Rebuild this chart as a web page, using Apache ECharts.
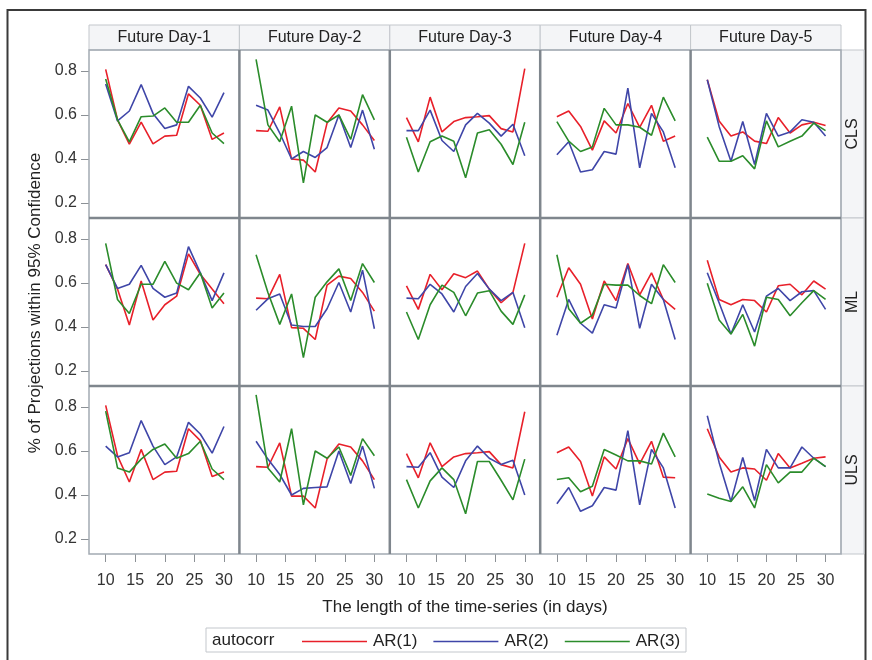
<!DOCTYPE html>
<html>
<head>
<meta charset="utf-8">
<script src="https://cdn.jsdelivr.net/npm/echarts@6/dist/echarts.min.js"></script>
<style>html,body{margin:0;padding:0;background:#fff;}#c{width:872px;height:660px;}</style>
</head>
<body>
<div id="c"></div>
<script>
const xDays = [10, 12, 14, 16, 18, 20, 22, 24, 26, 28, 30];
const xTicks = [10, 15, 20, 25, 30];
const yTicks = [0.2, 0.4, 0.6, 0.8];
const dayLabels = ['Future Day-1', 'Future Day-2', 'Future Day-3', 'Future Day-4', 'Future Day-5'];
const methods = ['CLS', 'ML', 'ULS'];
const seriesNames = ['AR(1)', 'AR(2)', 'AR(3)'];

// values: one inner array per future day (1..5), points at xDays
const CLS_AR1 = [
  [0.807, 0.578, 0.467, 0.567, 0.469, 0.504, 0.508, 0.696, 0.644, 0.489, 0.518],
  [0.529, 0.526, 0.637, 0.400, 0.395, 0.341, 0.563, 0.632, 0.618, 0.555, 0.484],
  [0.588, 0.478, 0.681, 0.523, 0.570, 0.588, 0.592, 0.597, 0.538, 0.523, 0.810],
  [0.592, 0.618, 0.548, 0.440, 0.573, 0.518, 0.652, 0.544, 0.644, 0.481, 0.504],
  [0.760, 0.573, 0.504, 0.523, 0.481, 0.470, 0.588, 0.518, 0.555, 0.567, 0.552]
];
const CLS_AR2 = [
  [0.741, 0.573, 0.618, 0.738, 0.607, 0.538, 0.555, 0.730, 0.677, 0.590, 0.701],
  [0.644, 0.622, 0.518, 0.400, 0.434, 0.407, 0.452, 0.600, 0.452, 0.622, 0.444],
  [0.529, 0.529, 0.622, 0.484, 0.434, 0.555, 0.607, 0.563, 0.504, 0.558, 0.415],
  [0.419, 0.478, 0.341, 0.351, 0.434, 0.422, 0.722, 0.360, 0.607, 0.523, 0.360],
  [0.760, 0.548, 0.390, 0.570, 0.375, 0.607, 0.504, 0.523, 0.578, 0.567, 0.504]
];
const CLS_AR3 = [
  [0.763, 0.578, 0.478, 0.592, 0.595, 0.632, 0.567, 0.567, 0.644, 0.518, 0.470],
  [0.852, 0.555, 0.478, 0.640, 0.292, 0.600, 0.567, 0.600, 0.489, 0.692, 0.578],
  [0.499, 0.341, 0.478, 0.504, 0.481, 0.315, 0.518, 0.533, 0.467, 0.375, 0.567],
  [0.570, 0.481, 0.434, 0.455, 0.630, 0.555, 0.555, 0.544, 0.508, 0.681, 0.573],
  [0.499, 0.390, 0.390, 0.415, 0.355, 0.573, 0.455, 0.481, 0.504, 0.563, 0.529]
];
const ML_AR1 = [
  [0.683, 0.572, 0.409, 0.609, 0.432, 0.501, 0.540, 0.732, 0.639, 0.572, 0.506],
  [0.531, 0.528, 0.639, 0.397, 0.394, 0.343, 0.590, 0.631, 0.620, 0.557, 0.472],
  [0.587, 0.480, 0.639, 0.569, 0.642, 0.624, 0.654, 0.572, 0.510, 0.557, 0.780],
  [0.535, 0.669, 0.594, 0.436, 0.609, 0.520, 0.688, 0.546, 0.646, 0.525, 0.480],
  [0.703, 0.525, 0.501, 0.525, 0.520, 0.468, 0.587, 0.594, 0.546, 0.609, 0.572]
];
const ML_AR2 = [
  [0.683, 0.575, 0.594, 0.680, 0.575, 0.535, 0.554, 0.765, 0.646, 0.520, 0.646],
  [0.476, 0.528, 0.550, 0.409, 0.402, 0.402, 0.483, 0.602, 0.468, 0.658, 0.392],
  [0.531, 0.528, 0.594, 0.550, 0.468, 0.584, 0.643, 0.572, 0.520, 0.557, 0.397],
  [0.362, 0.525, 0.417, 0.372, 0.501, 0.486, 0.683, 0.394, 0.594, 0.525, 0.343],
  [0.646, 0.510, 0.368, 0.501, 0.377, 0.540, 0.575, 0.520, 0.560, 0.565, 0.480]
];
const ML_AR3 = [
  [0.780, 0.525, 0.461, 0.594, 0.594, 0.698, 0.599, 0.569, 0.646, 0.486, 0.554],
  [0.728, 0.557, 0.412, 0.550, 0.261, 0.535, 0.605, 0.664, 0.520, 0.688, 0.602],
  [0.468, 0.343, 0.501, 0.590, 0.557, 0.451, 0.554, 0.565, 0.472, 0.412, 0.546],
  [0.728, 0.483, 0.417, 0.454, 0.594, 0.590, 0.590, 0.543, 0.506, 0.683, 0.602],
  [0.599, 0.432, 0.368, 0.457, 0.313, 0.535, 0.525, 0.451, 0.510, 0.565, 0.525]
];
const ULS_AR1 = [
  [0.807, 0.578, 0.459, 0.607, 0.470, 0.504, 0.508, 0.701, 0.647, 0.484, 0.504],
  [0.529, 0.526, 0.637, 0.395, 0.395, 0.341, 0.563, 0.632, 0.618, 0.555, 0.470],
  [0.588, 0.478, 0.637, 0.529, 0.573, 0.588, 0.592, 0.597, 0.538, 0.523, 0.778],
  [0.592, 0.618, 0.552, 0.395, 0.573, 0.518, 0.656, 0.541, 0.644, 0.481, 0.478],
  [0.701, 0.573, 0.504, 0.523, 0.518, 0.467, 0.588, 0.523, 0.544, 0.567, 0.573]
];
const ULS_AR2 = [
  [0.622, 0.573, 0.592, 0.738, 0.622, 0.538, 0.573, 0.730, 0.677, 0.590, 0.711],
  [0.644, 0.563, 0.493, 0.400, 0.430, 0.434, 0.437, 0.600, 0.452, 0.622, 0.430],
  [0.529, 0.526, 0.592, 0.481, 0.434, 0.555, 0.622, 0.567, 0.538, 0.558, 0.400],
  [0.360, 0.434, 0.326, 0.351, 0.434, 0.422, 0.692, 0.355, 0.607, 0.523, 0.341],
  [0.760, 0.548, 0.370, 0.570, 0.375, 0.607, 0.523, 0.523, 0.618, 0.567, 0.529]
];
const ULS_AR3 = [
  [0.781, 0.523, 0.504, 0.563, 0.607, 0.632, 0.567, 0.588, 0.644, 0.518, 0.470],
  [0.855, 0.523, 0.459, 0.701, 0.355, 0.600, 0.567, 0.618, 0.489, 0.656, 0.578],
  [0.470, 0.341, 0.464, 0.523, 0.470, 0.315, 0.552, 0.552, 0.467, 0.378, 0.563],
  [0.470, 0.478, 0.415, 0.440, 0.607, 0.582, 0.555, 0.555, 0.541, 0.681, 0.573],
  [0.404, 0.385, 0.370, 0.437, 0.341, 0.538, 0.455, 0.504, 0.504, 0.567, 0.529]
];

const methodData = [
  [CLS_AR1, CLS_AR2, CLS_AR3],
  [ML_AR1, ML_AR2, ML_AR3],
  [ULS_AR1, ULS_AR2, ULS_AR3]
];
const colors = ['#e8202a', '#3f46a8', '#2b8c2b'];

const FONT = "'Liberation Sans', Arial, sans-serif";
const L = 89, R = 841, T = 50, B = 554;
const colW = (R - L) / 5, rowH = (B - T) / 3;

const grids = [], xAxes = [], yAxes = [], series = [];
for (let r = 0; r < 3; r++) {
  for (let c = 0; c < 5; c++) {
    const idx = r * 5 + c;
    grids.push({ left: L + c * colW, top: T + r * rowH, width: colW, height: rowH, show: false });
    xAxes.push({
      gridIndex: idx, type: 'value', min: 7.18, max: 32.61,
      axisLine: { show: false }, splitLine: { show: false },
      axisTick: { show: r === 2, customValues: xTicks, length: 8, lineStyle: { color: '#8c9196', width: 1 } },
      axisLabel: { show: r === 2, customValues: xTicks, fontSize: 16, color: '#333', fontFamily: FONT, margin: 19 }
    });
    yAxes.push({
      gridIndex: idx, type: 'value', min: 0.132, max: 0.895,
      axisLine: { show: false }, splitLine: { show: false },
      axisTick: { show: c === 0, customValues: yTicks, length: 8, lineStyle: { color: '#8c9196', width: 1 } },
      axisLabel: { show: c === 0, customValues: yTicks, fontSize: 16, color: '#333', fontFamily: FONT, margin: 12,
        formatter: v => Number(v).toFixed(1) }
    });
    for (let s = 0; s < 3; s++) {
      const vals = methodData[r][s][c];
      series.push({
        name: seriesNames[s], type: 'line', xAxisIndex: idx, yAxisIndex: idx,
        data: xDays.map((d, i) => [d, vals[i]]),
        symbol: 'none', showSymbol: false, silent: true, animation: false,
        lineStyle: { color: colors[s], width: 1.6 }, itemStyle: { color: colors[s] }
      });
    }
  }
}

const graphics = [];
// outer frame
graphics.push({ type: 'rect', shape: { x: 7.5, y: 10, width: 858, height: 700 }, style: { fill: 'none', stroke: '#3a3a3a', lineWidth: 2 }, z: 1 });
// column headers
for (let c = 0; c < 5; c++) {
  graphics.push({ type: 'rect', shape: { x: L + c * colW, y: 25, width: colW, height: 25 }, style: { fill: '#f4f5f7', stroke: '#c3c7cc', lineWidth: 1 }, z: 2 });
  graphics.push({ type: 'text', x: L + c * colW + colW / 2, y: 38, style: { text: dayLabels[c], fontSize: 16, fontFamily: FONT, fill: '#222', align: 'center', verticalAlign: 'middle' }, z: 3 });
}
// row headers
for (let r = 0; r < 3; r++) {
  graphics.push({ type: 'rect', shape: { x: R, y: T + r * rowH, width: 23, height: rowH }, style: { fill: '#f4f5f7', stroke: '#c3c7cc', lineWidth: 1 }, z: 2 });
  graphics.push({ type: 'text', x: R + 12, y: T + r * rowH + rowH / 2, rotation: Math.PI / 2, style: { text: methods[r], fontSize: 16, fontFamily: FONT, fill: '#222', align: 'center', verticalAlign: 'middle' }, z: 3 });
}
// panel outer border
graphics.push({ type: 'rect', shape: { x: L, y: T, width: R - L, height: B - T }, style: { fill: 'none', stroke: '#a3abb3', lineWidth: 1.5 }, z: 10 });
// internal dividers
for (let c = 1; c < 5; c++) {
  graphics.push({ type: 'line', shape: { x1: L + c * colW, y1: T, x2: L + c * colW, y2: B }, style: { stroke: '#7f868d', lineWidth: 2.5 }, z: 11 });
}
for (let r = 1; r < 3; r++) {
  graphics.push({ type: 'line', shape: { x1: L, y1: T + r * rowH, x2: R, y2: T + r * rowH }, style: { stroke: '#7f868d', lineWidth: 2.5 }, z: 11 });
}
// axis titles
graphics.push({ type: 'text', x: 35, y: 303, rotation: Math.PI / 2, style: { text: '% of Projections within 95% Confidence', fontSize: 17, fontFamily: FONT, fill: '#222', align: 'center', verticalAlign: 'middle' }, z: 3 });
graphics.push({ type: 'text', x: 465, y: 607, style: { text: 'The length of the time-series (in days)', fontSize: 17, fontFamily: FONT, fill: '#222', align: 'center', verticalAlign: 'middle' }, z: 3 });
// legend box
graphics.push({ type: 'rect', shape: { x: 206, y: 628, width: 480, height: 24 }, style: { fill: '#fff', stroke: '#c3c7cc', lineWidth: 1 }, z: 2 });
graphics.push({ type: 'text', x: 212, y: 640, style: { text: 'autocorr', fontSize: 17, fontFamily: FONT, fill: '#222', align: 'left', verticalAlign: 'middle' }, z: 3 });

const chart = echarts.init(document.getElementById('c'), null, { renderer: 'canvas' });
chart.setOption({
  animation: false,
  backgroundColor: '#fff',
  grid: grids,
  xAxis: xAxes,
  yAxis: yAxes,
  series: series,
  legend: {
    data: seriesNames.map(n => ({ name: n, icon: 'rect' })),
    left: 297, top: 628, itemWidth: 65, itemHeight: 1.6, itemGap: 16,
    selectedMode: false,
    textStyle: { fontSize: 17, fontFamily: FONT, color: '#222', padding: [0, 0, 0, 1] }
  },
  graphic: graphics
});
</script>
</body>
</html>
